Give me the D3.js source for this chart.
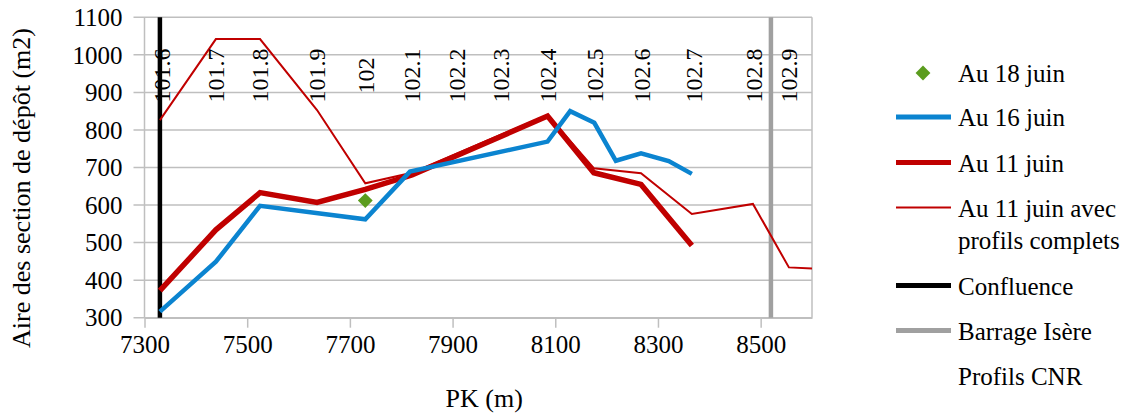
<!DOCTYPE html>
<html>
<head>
<meta charset="utf-8">
<script src="https://cdn.jsdelivr.net/npm/d3@7"></script>
<style>
  html, body { margin: 0; padding: 0; background: #fff; }
  svg text { font-family: "Liberation Serif", "Times New Roman", serif; fill: #000; }
</style>
</head>
<body>
<div id="chart"></div>
<script>
// PK (m) and deposit area (m2)
const au18PK  = [7730];
const au18Val = [612];

const au16PK  = [7330, 7439, 7525, 7730, 7817, 8085, 8129, 8176, 8218, 8267, 8321, 8366];
const au16Val = [316,  449,  598,  562,  689,  769,  850,  819,  718,  738,  717,  683];

const au11PK  = [7330, 7439, 7525, 7636, 7730, 7821, 8085, 8175, 8267, 8366];
const au11Val = [372,  534,  633,  607,  642,  680,  837,  686,  655,  492];

const fullPK  = [7330, 7439, 7525, 7636, 7730, 7821, 8085, 8175, 8267, 8366, 8485, 8555, 8600];
const fullVal = [826,  1042, 1042, 853,  658,  686,  840,  698,  685,  576,  603,  434,  431];

const confluencePK = 7330;
const barragePK    = 8520;

// Profils CNR labels
const cnrLabels = ['101.6','101.7','101.8','101.9','102','102.1','102.2','102.3','102.4','102.5','102.6','102.7','102.8','102.9'];
const cnrPK     = [7333, 7439, 7525, 7636, 7730, 7821, 7907, 7994, 8085, 8176, 8269, 8369, 8487, 8555];
const cnrVal    = 945;

const xTicks = [7300, 7500, 7700, 7900, 8100, 8300, 8500];
const yTicks = [300, 400, 500, 600, 700, 800, 900, 1000, 1100];

;(function(){
  const W = 1135, H = 417,
        left = 144.5, right = 812, top = 17.3, bottom = 317.7;

  const blue = '#0b84d0', red = '#c00000', green = '#5b9c1e',
        grid = '#bfbfbf', grey = '#a0a0a0';

  const svg = d3.select('#chart').append('svg')
    .attr('width', W)
    .attr('height', H);

  const x = d3.scaleLinear().domain([7300, 8600]).range([left, right]);
  const y = d3.scaleLinear().domain([300, 1100]).range([bottom, top]);

  svg.append('clipPath').attr('id', 'plot')
    .append('rect')
      .attr('x', left).attr('y', top - 5)
      .attr('width', right - left).attr('height', bottom - top + 10);

  // horizontal grid + y ticks
  svg.append('g').selectAll('line')
    .data(yTicks)
    .enter().append('line')
      .attr('x1', left - 11).attr('x2', right)
      .attr('y1', d => y(d)).attr('y2', d => y(d))
      .attr('stroke', grid).attr('stroke-width', 1.5);

  // frame (left axis, right border)
  svg.append('line')
    .attr('x1', left).attr('x2', left).attr('y1', top).attr('y2', bottom)
    .attr('stroke', grid).attr('stroke-width', 1.5);
  svg.append('line')
    .attr('x1', right).attr('x2', right).attr('y1', top).attr('y2', bottom)
    .attr('stroke', grid).attr('stroke-width', 1.5);

  // x axis
  const xa = svg.append('g')
    .attr('transform', `translate(0,${bottom})`)
    .call(d3.axisBottom(x).tickValues(xTicks).tickFormat(d3.format('d'))
      .tickSize(10).tickSizeOuter(0).tickPadding(8));
  xa.select('.domain').attr('stroke', grid).attr('stroke-width', 1.5);
  xa.selectAll('.tick line').attr('stroke', grid).attr('stroke-width', 1.5);
  xa.selectAll('.tick text')
    .attr('font-size', 25)
    .attr('fill', '#000')
    .attr('dy', '0.71em');

  // y tick labels
  svg.append('g').selectAll('text')
    .data(yTicks)
    .enter().append('text')
      .attr('x', left - 22)
      .attr('y', d => y(d))
      .attr('dy', '0.35em')
      .attr('text-anchor', 'end')
      .attr('font-size', 25)
      .text(d => d);

  // axis titles
  svg.append('text')
    .attr('x', x(7300) + (right - left) / 2 + 6)
    .attr('y', 407)
    .attr('text-anchor', 'middle')
    .attr('font-size', 26)
    .text('PK (m)');

  svg.append('text')
    .attr('transform', 'translate(30,188) rotate(-90)')
    .attr('text-anchor', 'middle')
    .attr('font-size', 26)
    .text('Aire des section de dépôt (m2)');

  const plot = svg.append('g').attr('clip-path', 'url(#plot)');

  // confluence & barrage
  plot.append('line')
    .attr('x1', x(confluencePK)).attr('x2', x(confluencePK))
    .attr('y1', top).attr('y2', bottom)
    .attr('stroke', '#000').attr('stroke-width', 4.5);
  plot.append('line')
    .attr('x1', x(barragePK)).attr('x2', x(barragePK))
    .attr('y1', top).attr('y2', bottom)
    .attr('stroke', grey).attr('stroke-width', 4.5);

  const line = d3.line().x(d => x(d[0])).y(d => y(d[1]));
  const pairs = (pk, v) => pk.map((p, i) => [p, v[i]]);

  const series = [
    { data: pairs(fullPK, fullVal), color: red,  width: 2 },
    { data: pairs(au11PK, au11Val), color: red,  width: 5.5 },
    { data: pairs(au16PK, au16Val), color: blue, width: 4.5 }
  ];

  plot.selectAll('path.serie')
    .data(series)
    .enter().append('path')
      .attr('class', 'serie')
      .attr('d', d => line(d.data))
      .attr('fill', 'none')
      .attr('stroke', d => d.color)
      .attr('stroke-width', d => d.width)
      .attr('stroke-linejoin', 'miter');

  const diamond = d3.symbol().type(d3.symbolSquare).size(110);
  plot.selectAll('path.au18')
    .data(pairs(au18PK, au18Val))
    .enter().append('path')
      .attr('class', 'au18')
      .attr('d', diamond)
      .attr('transform', d => `translate(${x(d[0])},${y(d[1])}) rotate(45)`)
      .attr('fill', green);

  // Profils CNR labels
  svg.append('g').selectAll('text')
    .data(cnrLabels)
    .enter().append('text')
      .attr('transform', (d, i) => `translate(${x(cnrPK[i])},${y(cnrVal)}) rotate(-90)`)
      .attr('text-anchor', 'middle')
      .attr('dy', '0.35em')
      .attr('font-size', 24)
      .text(d => d);

  // legend
  const legend = [
    { label: ['Au 18 juin'], type: 'diamond', color: green, y: 73 },
    { label: ['Au 16 juin'], type: 'line', color: blue, width: 5, y: 117 },
    { label: ['Au 11 juin'], type: 'line', color: red, width: 5, y: 162.5 },
    { label: ['Au 11 juin avec', 'profils complets'], type: 'line', color: red, width: 2, y: 207.5 },
    { label: ['Confluence'], type: 'line', color: '#000', width: 5, y: 285.5 },
    { label: ['Barrage Isère'], type: 'line', color: grey, width: 5, y: 330.5 },
    { label: ['Profils CNR'], type: 'none', y: 376 }
  ];

  const lg = svg.append('g').selectAll('g')
    .data(legend)
    .enter().append('g')
      .attr('transform', d => `translate(0,${d.y})`);

  lg.filter(d => d.type === 'line').append('line')
    .attr('x1', 896).attr('x2', 951)
    .attr('stroke', d => d.color)
    .attr('stroke-width', d => d.width);

  lg.filter(d => d.type === 'diamond').append('path')
    .attr('d', diamond)
    .attr('transform', 'translate(923,0) rotate(45)')
    .attr('fill', d => d.color);

  lg.append('text')
    .attr('x', 958)
    .attr('y', 9)
    .attr('font-size', 25)
    .selectAll('tspan')
    .data(d => d.label)
    .enter().append('tspan')
      .attr('x', 958)
      .attr('dy', (d, i) => i ? 32.5 : 0)
      .text(d => d);
})();
</script>
</body>
</html>
